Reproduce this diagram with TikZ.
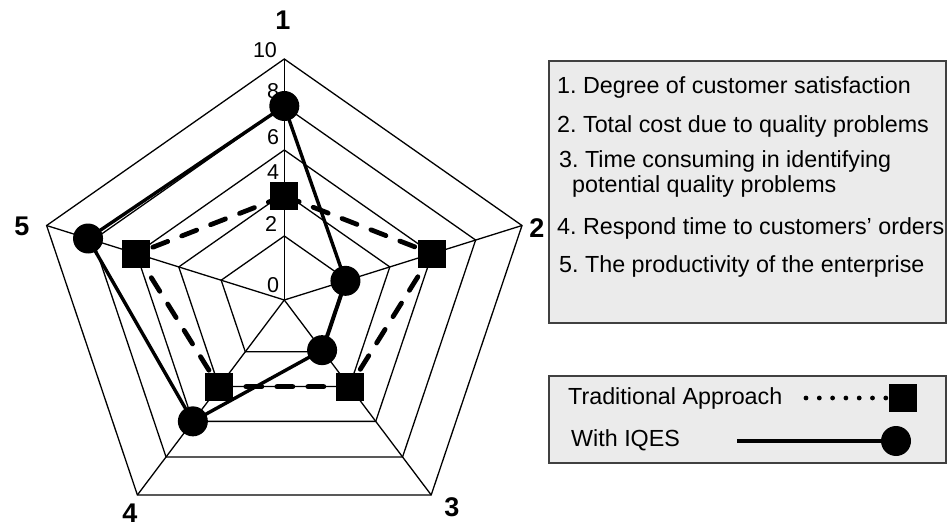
\documentclass[tikz,border=0pt]{standalone}
\usepackage{fontspec}
\setmainfont{Liberation Sans}
\usetikzlibrary{calc}
\pgfdeclarelayer{gridlayer}
\pgfdeclarelayer{linelayer}
\pgfsetlayers{gridlayer,linelayer,main}
\frenchspacing
\begin{document}
\begin{tikzpicture}[x=1pt,y=-1pt,
  gridline/.style={line width=1.3pt, black},
  tradline/.style={line width=4.8pt, dash pattern=on 16pt off 15pt, line cap=round},
  iqesline/.style={line width=3.4pt, line join=round},
  dotline/.style={line width=4.8pt, dash pattern=on 0pt off 13.3pt, line cap=round},
  sq/.style={fill=black, rectangle, minimum size=28pt, inner sep=0pt},
  dot/.style={fill=black, circle, minimum size=30pt, inner sep=0pt},
  axlab/.style={font=\fontsize{27}{30}\selectfont\bfseries, inner sep=0pt},
  scalelab/.style={font=\fontsize{21.5}{24}\selectfont, inner sep=0pt},
  legtxt/.style={font=\fontsize{23.3}{28}\selectfont, anchor=west, inner sep=0pt},
  legbox/.style={draw=black!75, fill=black!8, line width=1.3pt}]
\useasboundingbox (0,0) rectangle (948,529);
\def\sx{1.037}
\coordinate (c) at (284.3,300);
% grid
\begin{pgfonlayer}{gridlayer}
\foreach \r in {64,107,150,194,241}{
  \draw[gridline] ($(c)+({\sx*\r*cos(90)},{-\r*sin(90)})$)
   -- ($(c)+({\sx*\r*cos(18)},{-\r*sin(18)})$)
   -- ($(c)+({\sx*\r*cos(-54)},{-\r*sin(-54)})$)
   -- ($(c)+({\sx*\r*cos(-126)},{-\r*sin(-126)})$)
   -- ($(c)+({\sx*\r*cos(162)},{-\r*sin(162)})$) -- cycle;
}
\foreach \a/\n in {90/v1,18/v2,-54/v3,-126/v4,162/v5}{
  \coordinate (\n) at ($(c)+({\sx*241*cos(\a)},{-241*sin(\a)})$);
  \draw[gridline] (c) -- (\n);
}
\end{pgfonlayer}
% scale labels
\node[scalelab] (s10) at (265,50) {10};
\node[scalelab] (s8) at (273,91) {8};
\node[scalelab] (s6) at (273,137) {6};
\node[scalelab] (s4) at (273,172) {4};
\node[scalelab] (s2) at (271,224) {2};
\node[scalelab] (s0) at (273,285) {0};
% axis labels
\node[axlab] (a1) at (283,20) {1};
\node[axlab] (a2) at (537,228) {2};
\node[axlab] (a3) at (452,507) {3};
\node[axlab] (a4) at (130,513) {4};
\node[axlab] (a5) at (22,226) {5};
% data nodes
\foreach \n/\a/\r in {t1/90/104,t2/18/150,t3/-54/107,t4/-126/107,t5/162/150}{
  \node[sq] (\n) at ($(c)+({\sx*\r*cos(\a)},{-\r*sin(\a)})$) {};
}
\foreach \n/\a/\r in {q1/90/194,q2/18/62,q3/-54/62,q4/-126/150,q5/162/199}{
  \node[dot] (\n) at ($(c)+({\sx*\r*cos(\a)},{-\r*sin(\a)})$) {};
}
\begin{pgfonlayer}{linelayer}
\draw[tradline] (t1.center) -- (t2.center) -- (t3.center) -- (t4.center) -- (t5.center) -- cycle;
\draw[iqesline] (q1.center) -- (q2.center) -- (q3.center) -- (q4.center) -- (q5.center) -- cycle;
\end{pgfonlayer}
% legend box 1
\draw[legbox] (549,61) rectangle (946,323);
\node[legtxt] (l1) at (557,87) {1. Degree of customer satisfaction};
\node[legtxt] (l2) at (557,126) {2. Total cost due to quality problems};
\node[legtxt] (l3) at (559,161) {3. Time consuming in identifying};
\node[legtxt] (l3b) at (572,186) {potential quality problems};
\node[legtxt] (l4) at (557,228) {4. Respond time to customers’ orders};
\node[legtxt] (l5) at (559,266) {5. The productivity of the enterprise};
% legend box 2
\draw[legbox] (549,376) rectangle (946,463);
\node[legtxt] (ta) at (568,398) {Traditional Approach};
\node[legtxt] (wi) at (571,440) {With IQES};
\node[sq] (lsq) at (903,398) {};
\coordinate (ld) at (806,398);
\draw[dotline] (ld) -- (lsq.center);
\node[dot] (ldot) at (896,441) {};
\coordinate (ll) at (737,441);
\draw[iqesline] (ll) -- (ldot.west);
\end{tikzpicture}
\end{document}
